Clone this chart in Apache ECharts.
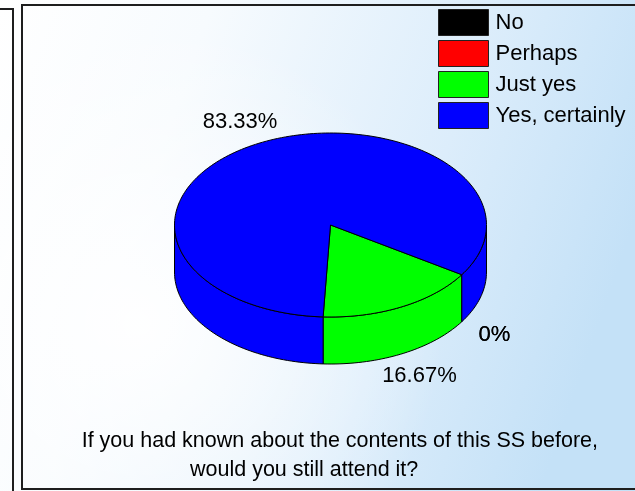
<!DOCTYPE html>
<html>
<head>
<meta charset="utf-8">
<script src="https://cdn.jsdelivr.net/npm/echarts@6/dist/echarts.min.js"></script>
<style>
  html, body { margin: 0; padding: 0; background: #ffffff; }
  #chart { width: 635px; height: 491px; }
</style>
</head>
<body>
<div id="chart"></div>
<script>
// Survey answers and their shares (percent)
const categories = ['No', 'Perhaps', 'Just yes', 'Yes, certainly'];
const shares = [0, 0, 16.67, 83.33];
const question = [
  'If you had known about the contents of this SS before,',
  'would you still attend it?'
];

// Styling and layout
const sliceColors = ['#000000', '#ff0000', '#00ff00', '#0000ff'];
const FONT = '"Liberation Sans", Arial, Helvetica, sans-serif';
const START_DEG = -32.7;   // edge of the first slice (math convention); slices run clockwise
const DEPTH = 0.511;       // wall height in y-axis units (top face spans -1..1)
const labelNudge = [[32.7, 13.3], [32.7, 13.3], [17.4, 21.8], [-19, -21]];

const total = shares.reduce((a, b) => a + b, 0);
const starts = [];
let acc = 0;
shares.forEach(v => { starts.push(START_DEG - acc / total * 360); acc += v; });

function pt(api, deg, drop) {
  const r = deg * Math.PI / 180;
  return api.coord([Math.cos(r), Math.sin(r) - (drop || 0)]);
}
function arc(api, from, to, drop) {
  const pts = [];
  const n = Math.max(2, Math.ceil(Math.abs(from - to) / 1.5));
  for (let k = 0; k <= n; k++) pts.push(pt(api, from + (to - from) * k / n, drop));
  return pts;
}

function renderSlice(params, api) {
  const i = params.seriesIndex;
  const v = api.value(2);
  const a1 = starts[i];
  const a2 = a1 - v / total * 360;
  const color = sliceColors[i];
  const children = [];
  if (v > 0) {
    // side wall: the parts of the slice's rim that face the viewer (-180..0 deg, mod 360)
    for (let k = -2; k <= 1; k++) {
      const lo = -180 + 360 * k, hi = 360 * k;
      const from = Math.min(a1, hi), to = Math.max(a2, lo);
      if (from > to) {
        const pts = arc(api, from, to, 0).concat(arc(api, to, from, DEPTH));
        children.push({
          type: 'polygon',
          shape: { points: pts },
          style: { fill: color, stroke: '#000', lineWidth: 1 }
        });
      }
    }
    // top face
    const c = api.coord([0, 0]);
    children.push({
      type: 'polygon',
      shape: { points: [c].concat(arc(api, a1, a2, 0)) },
      style: { fill: color, stroke: '#000', lineWidth: 1, lineJoin: 'round' }
    });
  }
  // percentage label, placed just outside the rim at the slice's middle angle
  const mid = (a1 + a2) / 2;
  const front = Math.sin(mid * Math.PI / 180) < 0;
  const anchor = pt(api, mid, front ? DEPTH : 0);
  children.push({
    type: 'text',
    x: anchor[0] + labelNudge[i][0],
    y: anchor[1] + labelNudge[i][1],
    z2: 10,
    style: {
      text: v + '%',
      font: '22px ' + FONT,
      fill: '#000',
      align: 'center',
      verticalAlign: 'middle'
    }
  });
  return { type: 'group', children: children };
}

const chart = echarts.init(document.getElementById('chart'), null, { renderer: 'canvas' });

const option = {
  animation: false,
  backgroundColor: new echarts.graphic.LinearGradient(0, 0, 1, 0.45, [
    { offset: 0, color: '#ffffff' },
    { offset: 0.3, color: '#f7fbfe' },
    { offset: 0.7, color: '#dcedfb' },
    { offset: 1, color: '#c4e1f7' }
  ]),
  graphic: [
    // soft white glow across the middle left
    {
      type: 'rect', z: -10, silent: true,
      shape: { x: 0, y: 0, width: 635, height: 491 },
      style: {
        fill: {
          type: 'radial', x: 0.22, y: 0.66, r: 0.62,
          colorStops: [
            { offset: 0, color: 'rgba(255,255,255,0.95)' },
            { offset: 0.55, color: 'rgba(255,255,255,0.45)' },
            { offset: 1, color: 'rgba(255,255,255,0)' }
          ]
        }
      }
    },
    // neighbouring panel edge
    {
      type: 'polyline', z: 5, silent: true,
      shape: { points: [[0, 9], [13, 9], [13, 495]] },
      style: { stroke: '#1e1e1e', lineWidth: 2, fill: null }
    },
    // chart frame
    {
      type: 'rect', z: 5, silent: true,
      shape: { x: 22, y: 5, width: 640, height: 484 },
      style: { stroke: '#1e1e1e', lineWidth: 2, fill: null }
    },
    {
      type: 'text', z: 5, x: 81.7, y: 441,
      style: { text: question[0], font: '21.5px ' + FONT, fill: '#000', verticalAlign: 'middle' }
    },
    {
      type: 'text', z: 5, x: 190, y: 470.5,
      style: { text: question[1], font: '21.5px ' + FONT, fill: '#000', verticalAlign: 'middle' }
    }
  ],
  legend: {
    orient: 'vertical',
    left: 438,
    top: 9,
    padding: 0,
    itemWidth: 50,
    itemHeight: 26,
    itemGap: 4,
    icon: 'rect',
    selectedMode: false,
    itemStyle: { borderColor: '#222', borderWidth: 1 },
    textStyle: { fontSize: 22, fontFamily: FONT, color: '#000', padding: [0, 0, 0, 2] },
    data: categories
  },
  grid: { left: 174.5, top: 133, width: 312, height: 184, show: false },
  xAxis: { type: 'value', min: -1, max: 1, show: false },
  yAxis: { type: 'value', min: -1, max: 1, show: false },
  series: categories.map((name, i) => ({
    type: 'custom',
    name: name,
    coordinateSystem: 'cartesian2d',
    itemStyle: { color: sliceColors[i] },
    encode: { x: 0, y: 1 },
    data: [[0, 0, shares[i]]],
    renderItem: renderSlice,
    clip: false
  }))
};

chart.setOption(option);
</script>
</body>
</html>
